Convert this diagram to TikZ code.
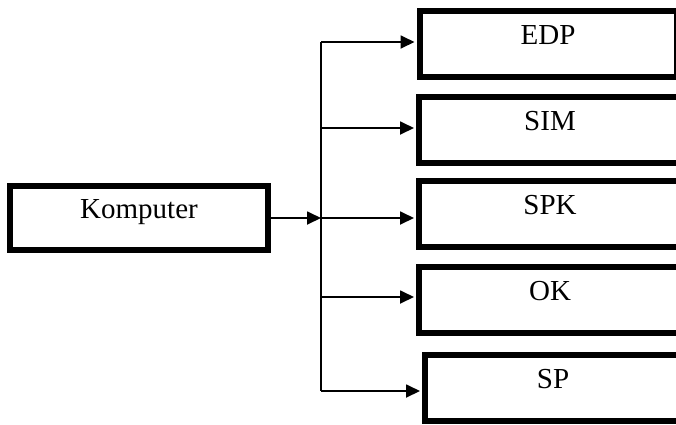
\documentclass[tikz,border=0pt]{standalone}
\usepackage{fontspec}
\setmainfont{Liberation Serif}
\usetikzlibrary{arrows.meta, positioning}

\tikzset{
  unitbox/.style={draw, line width=6pt, minimum height=66pt,
    font=\fontsize{29}{34}\selectfont, text height=0.7em, text depth=0.52em},
  feed/.style={line width=1.8pt}
}

\begin{document}
\begin{tikzpicture}[x=1pt, y=-1pt, >={Triangle[length=14pt, width=13pt]}]
  \useasboundingbox (0,0) rectangle (676,424);

  \node[unitbox, minimum width=258pt, minimum height=64pt] (komputer) at (139,218) {Komputer};

  \node[unitbox, minimum width=257pt] (edp) at (548,43.5) {EDP};
  \node[unitbox, minimum width=262pt] (sim) at (550,130) {SIM};
  \node[unitbox, minimum width=262pt] (spk) at (550,214) {SPK};
  \node[unitbox, minimum width=262pt] (ok)  at (550,300) {OK};
  \node[unitbox, minimum width=256pt] (sp)  at (553,387.5) {SP};

  % trunk
  \coordinate (t1) at (321,42);
  \coordinate (t2) at (321,128);
  \coordinate (t3) at (321,218);
  \coordinate (t4) at (321,297);
  \coordinate (t5) at (321,391);
  \draw[feed] (t1) -- (t5);

  \draw[feed, ->] (komputer.east) -- (t3);
  \draw[feed, ->, shorten >=2pt] (t1) -- (t1 -| edp.west);
  \draw[feed, ->, shorten >=2pt] (t2) -- (t2 -| sim.west);
  \draw[feed, ->, shorten >=2pt] (t3) -- (t3 -| spk.west);
  \draw[feed, ->, shorten >=2pt] (t4) -- (t4 -| ok.west);
  \draw[feed, ->, shorten >=2pt] (t5) -- (t5 -| sp.west);
\end{tikzpicture}
\end{document}
